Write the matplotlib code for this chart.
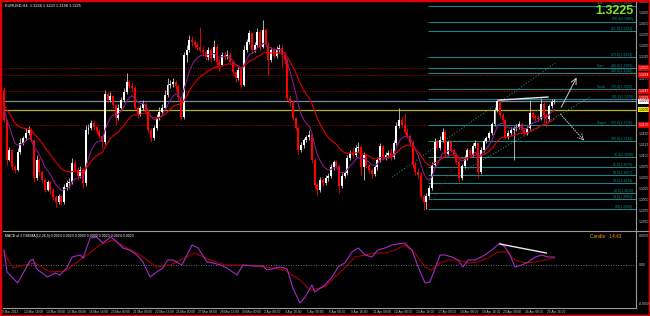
import numpy as np
import matplotlib
matplotlib.use("Agg")
import matplotlib.pyplot as plt
from matplotlib.lines import Line2D

# EURUSD H4, 9 Mar 2012 08:00 .. 26 Apr 2012, prices in pips above 1.3000
first_open = 250
closes = [
    182, 91, 114, 75, 68, 109, 130, 141, 152, 159,
    136, 50, 91, 64, 45, 23, 41, 23, 7, -5,
    9, -5, 30, 39, 41, 84, 68, 55, 68, 39,
    159, 164, 175, 166, 157, 145, 132, 241, 227, 236,
    216, 186, 209, 227, 245, 268, 259, 255, 209, 195,
    209, 218, 200, 159, 141, 164, 186, 200, 209, 239,
    261, 264, 268, 259, 234, 189, 330, 341, 364, 359,
    352, 348, 341, 336, 325, 341, 323, 348, 314, 307,
    330, 325, 330, 314, 291, 277, 295, 261, 341, 359,
    379, 341, 352, 382, 348, 386, 352, 318, 341, 327,
    341, 345, 330, 318, 232, 221, 186, 164, 114, 125,
    136, 143, 148, 91, 34, 23, 45, 39, 50, 55,
    75, 86, 77, 32, 55, 61, 95, 107, 102, 118,
    120, 75, 102, 77, 68, 59, 75, 91, 123, 98,
    102, 107, 98, 130, 168, 182, 170, 155, 145, 130,
    80, 64, 57, 9, -5, 9, 27, 80, 132, 118,
    136, 155, 105, 132, 114, 102, 86, 50, 77, 95,
    114, 102, 123, 130, 64, 114, 134, 141, 152, 173,
    205, 225, 193, 182, 143, 152, 159, 164, 166, 173,
    159, 152, 164, 198, 189, 186, 184, 218, 193, 184,
    214, 223, 225]
highs = [
    257, 184, 120, 116, 80, 118, 141, 145, 164, 168,
    164, 139, 102, 95, 68, 50, 45, 44, 27, 11,
    14, 11, 36, 45, 50, 95, 91, 75, 77, 73,
    170, 173, 182, 182, 170, 161, 148, 250, 245, 245,
    239, 218, 218, 234, 255, 289, 273, 268, 259, 214,
    216, 227, 223, 205, 164, 170, 195, 211, 218, 250,
    277, 273, 277, 273, 264, 236, 336, 352, 375, 373,
    364, 359, 393, 350, 341, 348, 345, 364, 355, 323,
    336, 336, 341, 336, 318, 295, 302, 300, 352, 366,
    386, 382, 359, 391, 386, 409, 391, 359, 348, 348,
    350, 355, 352, 336, 323, 239, 227, 189, 168, 132,
    141, 148, 159, 152, 95, 39, 52, 52, 57, 61,
    82, 91, 91, 80, 61, 68, 102, 114, 118, 125,
    132, 125, 109, 107, 82, 73, 80, 98, 130, 125,
    109, 114, 118, 136, 177, 209, 191, 198, 164, 150,
    136, 86, 73, 64, 14, 16, 34, 86, 141, 136,
    145, 164, 159, 136, 136, 118, 107, 91, 82, 102,
    118, 118, 130, 136, 132, 120, 139, 145, 157, 177,
    211, 230, 227, 198, 186, 159, 166, 168, 173, 180,
    177, 164, 168, 227, 202, 195, 193, 232, 223, 198,
    218, 230, 230]
lows = [
    177, 80, 88, 68, 61, 66, 105, 125, 136, 148,
    132, 41, 45, 57, 39, 18, 20, 14, 0, -16,
    -9, -11, -8, 23, 27, 36, 64, 45, 50, 27,
    32, 150, 159, 159, 150, 141, 118, 127, 221, 223,
    209, 170, 182, 205, 223, 241, 255, 245, 205, 186,
    191, 205, 193, 152, 132, 136, 159, 182, 193, 205,
    234, 255, 257, 252, 227, 182, 184, 314, 336, 350,
    345, 341, 336, 327, 318, 318, 314, 318, 300, 291,
    305, 318, 320, 309, 284, 268, 273, 255, 259, 336,
    355, 334, 336, 348, 341, 345, 348, 284, 314, 323,
    323, 334, 302, 309, 227, 214, 182, 159, 102, 109,
    118, 132, 136, 84, 27, 11, 18, 32, 34, 43,
    50, 68, 73, 16, 27, 50, 57, 91, 95, 98,
    109, 57, 45, 73, 61, 50, 55, 68, 86, 91,
    91, 95, 91, 93, 125, 164, 166, 150, 141, 123,
    73, 57, 50, 4, -23, -20, 4, 23, 75, 114,
    114, 132, 100, 100, 109, 95, 82, 41, 45, 73,
    91, 98, 98, 118, 50, 59, 109, 130, 136, 148,
    168, 200, 186, 177, 139, 139, 148, 91, 157, 161,
    155, 145, 148, 159, 184, 180, 177, 182, 175, 166,
    180, 209, 218]

# oscillator (bar index, value in 0.0001)
macd_bars = [0, 1.1, 5, 9.5, 10.6, 12, 16, 18.7, 20.5, 23, 25, 28, 29, 31.6, 34, 36.3,
             39, 40.7, 43.7, 46, 48.8, 51, 53.6, 56, 58.3, 60, 62, 65.3, 69, 71.2, 74.5,
             76.7, 79.3, 81.8, 85.5, 87.7, 91.4, 95, 96.5, 101.3, 103.9, 106, 108.6,
             110.5, 113, 114, 117.8, 120.4, 122.6, 125, 127.7, 130, 132.5, 135, 137.2,
             139.8, 142.4, 147, 149.7, 152, 154.5, 156.3, 158, 160, 161.8, 164.4, 166.6,
             168.4, 170.3, 172.8, 176.5, 179, 182, 183.9, 185.7, 187.5, 190, 192.3,
             194.9, 197.4, 199.6, 202]
macd_vals = [15, -7, -18, 4, 6, -4, -12, -8, -10, -3, 8, 10, 7, 27, 28, 22,
             28, 25, 17, 15, 10, 3, -12, -7, -3, 5, 5, 0, 20, 17, 3,
             2, 0, -3, -10, 0, -1, -1, -5, -2, -4, -23, -38,
             -32, -20, -27, -20, -12, -2, 2, 13, 17, 10, 8, 15,
             17, 20, 22, 15, -2, -18, -17, -5, 10, 10, 8, 5,
             -2, 5, 5, 10, 15, 22, 18, 10, -2, 0, 3,
             8, 10, 8, 8]
signal_bars = [0, 3.3, 7.7, 11.4, 16.9, 22.4, 27.9, 35.2, 40, 45, 50, 56, 61, 70, 75.6,
               81, 86.6, 94, 103, 108.6, 112.3, 117.8, 121.5, 125, 128.8, 132.5, 136,
               140, 143.5, 147, 150.8, 154.5, 157, 160, 163, 166.6, 170.3, 174, 177.6,
               181.3, 184.6, 187.5, 191.2, 194.9, 198.5, 202]
signal_vals = [13, -3, 0, 2, -7, -6, 5, 20, 25, 17, 10, -2, 0, 12, 5,
               0, 0, -1, -5, -15, -25, -22, -12, -3, 8, 10, 12,
               12, 15, 20, 12, -2, -5, 2, 5, 5, 2, 3, 7,
               13, 13, 5, 2, 3, 5, 7]

time_labels = ["9 Mar 2012", "12 Mar 16:00", "14 Mar 00:00", "15 Mar 08:00", "16 Mar 16:00",
               "20 Mar 00:00", "21 Mar 08:00", "22 Mar 16:00", "26 Mar 00:00", "27 Mar 08:00",
               "28 Mar 16:00", "30 Mar 00:00", "2 Apr 08:00", "3 Apr 16:00", "5 Apr 00:00",
               "6 Apr 08:00", "9 Apr 16:00", "11 Apr 00:00", "12 Apr 08:00", "13 Apr 16:00",
               "17 Apr 00:00", "18 Apr 08:00", "19 Apr 16:00", "23 Apr 00:00", "24 Apr 08:00",
               "25 Apr 16:00"]

# levels drawn on the chart
red_levels = [1.3300, 1.3284, 1.3247, 1.3170]
ask = 1.3232
yellow_level = 1.3205
bid = 1.3225
fib_low, fib_high = 1.2980, 1.3134
fib_ratios = [0.0, 14.6, 23.6, 38.2, 50.0, 61.8, 76.4, 100.0, 123.6, 161.8, 176.4,
              200.0, 208.0, 223.6, 261.8, 276.4, 300.0]
fib_names = {300.0: "Start", 208.0: "Start", 176.4: "South", 123.6: "Target"}
macd_header = "MACD of 3 OSEMA(12,26,9) 0.0024 0.0023 0.0000 0.0000 0.0023 0.0024 0.0023"
title = "EURUSD,H4  1.3228 1.3230 1.3198 1.3225"

FONT = "Liberation Sans"


def ema(vals, period, seed):
    out, prev, k = [], seed, 2.0 / (period + 1)
    for v in vals:
        prev = prev + k * (v - prev)
        out.append(prev)
    return np.array(out)


W, H = 650, 316
fig = plt.figure(figsize=(W / 100, H / 100), dpi=100, facecolor="black")


def box(l, t, r, b):
    return [l / W, 1 - b / H, (r - l) / W, (b - t) / H]


ax = fig.add_axes(box(3, 2, 636, 230))
sub = fig.add_axes(box(3, 231, 636, 308))
for a in (ax, sub):
    a.set_facecolor("black")
    a.set_xticks([])
    a.set_yticks([])
    for s in a.spines.values():
        s.set_visible(False)

c = 1.3 + np.array(closes) / 1e4
o = 1.3 + np.array([first_open] + closes[:-1]) / 1e4
hi = 1.3 + np.array(highs) / 1e4
lo = 1.3 + np.array(lows) / 1e4
x = np.arange(len(c))
xmax = (636 - 4) / 2.725
ax.set_xlim(-0.37, xmax)
sub.set_xlim(-0.37, xmax)
ax.set_ylim(1.29318, 1.3450)
sub.set_ylim(-0.0043, 0.0034)

teal = "#1B8585"
# horizontal levels
for p in red_levels:
    ax.axhline(p, color="#B00000", lw=0.7, ls=(0, (1, 1.5)), zorder=1)
ax.axhline(bid, color="#7A8A99", lw=0.9, zorder=1)
ax.axhline(yellow_level, color="#B4B400", lw=0.9, zorder=1)

# fibonacci expansion
fib_prices = [fib_low + r / 100 * (fib_high - fib_low) for r in fib_ratios]
ax.hlines(fib_prices, 155.5, xmax, color=teal, lw=0.8, zorder=1)
ax.plot([155.2, 171.0], [fib_low, fib_high], color="#8B0000", lw=0.6, ls=(0, (1, 1.5)),
        zorder=1)
for r, p in zip(fib_ratios, fib_prices):
    ax.text(231.0, p + 0.00005, f"{r:.1f}({p:.4f})", ha="right", va="bottom",
            fontsize=2.5, color=teal, family=FONT)
    if r in fib_names:
        ax.text(217.5, p + 0.00005, fib_names[r], ha="left", va="bottom",
                fontsize=2.5, color=teal, family=FONT)

# channel
ax.plot([142.4, 203.0], [1.3052, 1.3314], color="#1AA0A0", lw=0.7, ls=(0, (1, 2)))
ax.plot([168.4, 215.0], [1.3064, 1.3234], color="#1AA0A0", lw=0.7, ls=(0, (1, 2)))

# candles
up = c >= o
ax.vlines(x, lo, hi, colors=np.where(up, "#C8C8C8", "#FF0000"), lw=0.6, zorder=2)
ax.bar(x, np.maximum(np.abs(c - o), 0.00003), bottom=np.minimum(o, c), width=0.72,
       color=np.where(up, "white", "#FF0000"), linewidth=0, zorder=3)

# moving averages
ax.plot(x, ema(c, 8, 1.3215), color="#8A1A8A", lw=0.8, zorder=4)
ax.plot(x, ema(c, 21, 1.3220), color="#E00000", lw=0.8, zorder=4)

# trend line and projections
ax.plot([181.6, 199.6], [1.3227, 1.3234], color="#E8E8E8", lw=1.0, zorder=5)
ax.annotate("", xy=(210.6, 1.3284), xytext=(204.0, 1.3205),
            arrowprops=dict(arrowstyle="->", color="#C8C8C8", lw=0.7))
ax.annotate("", xy=(213.6, 1.3130), xytext=(203.5, 1.3200),
            arrowprops=dict(arrowstyle="->", color="#C8C8C8", lw=0.7, ls=(0, (1, 1.5))))

# texts
ax.text(0.003, 0.993, title, transform=ax.transAxes, va="top", ha="left",
        fontsize=2.8, color="white", family=FONT)
fig.text(633 / W, 1 - 11 / H, "1.3225", color="#7FE31C", fontsize=9, fontweight="bold",
         ha="right", va="center", family=FONT)

# price scale
ytr = ax.get_yaxis_transform()
boxed = red_levels + [ask, bid, yellow_level]
for k in range(21):
    p = 1.2950 + 0.0025 * k
    if min(abs(p - b) for b in boxed) < 0.0009:
        continue
    ax.text(1.004, p, f"{p:.4f}", transform=ytr, fontsize=2.4, color="#C8C8C8",
            va="center", ha="left", family=FONT)
tag = dict(transform=ytr, fontsize=2.4, va="center", ha="left", family=FONT)
for p in red_levels + [ask]:
    ax.text(1.004, p, f"{p:.4f}", color="white",
            bbox=dict(facecolor="#E00000", edgecolor="none", pad=0.5), **tag)
ax.text(1.004, bid - 0.00008, f"{bid:.4f}", color="black",
        bbox=dict(facecolor="white", edgecolor="none", pad=0.5), **tag)
ax.text(1.004, yellow_level, f"{yellow_level:.4f}", color="black",
        bbox=dict(facecolor="#F0F000", edgecolor="none", pad=0.5), **tag)

# oscillator window
sub.axhline(0, color="#909090", lw=0.6, ls=(0, (1, 2)))
sub.plot(signal_bars, np.array(signal_vals) / 1e4, color="#A00000", lw=0.8)
sub.plot(macd_bars, np.array(macd_vals) / 1e4, color="#A22CC8", lw=0.8)
sub.plot([182, 199], [0.0021, 0.0012], color="#E8E8E8", lw=1.0)
sub.text(0.003, 0.96, macd_header, transform=sub.transAxes, fontsize=2.5, color="white",
         va="top", family=FONT)
sub.text(0.927, 0.93, "Candle   14:43", transform=sub.transAxes, fontsize=3.4,
         color="#FF9A00", va="center", family=FONT)
stx = sub.get_yaxis_transform()
sub.text(1.004, 0.96, "0.0033", transform=sub.transAxes, fontsize=2.4, color="#C8C8C8",
         va="top", family=FONT)
sub.text(1.004, 0.0, "0.00", transform=stx, fontsize=2.4, color="#C8C8C8", va="center",
         family=FONT)
sub.text(1.004, 0.03, "-0.0038", transform=sub.transAxes, fontsize=2.4, color="#C8C8C8",
         va="bottom", family=FONT)

xtr = sub.get_xaxis_transform()
for k, lab in enumerate(time_labels):
    sub.text(8 * k - 0.7, -0.03, lab, transform=xtr, fontsize=2.3, color="#C8C8C8",
             ha="left", va="top", family=FONT)

# frame lines
grey = "#9A9A9A"
fig.add_artist(Line2D([3 / W, 648 / W], [1 - 231 / H] * 2, color=grey, lw=0.8))
fig.add_artist(Line2D([3 / W, 636 / W], [1 - 308 / H] * 2, color=grey, lw=0.8))
fig.add_artist(Line2D([636 / W] * 2, [1 - 2 / H, 1 - 308 / H], color=grey, lw=0.8))
fig.add_artist(plt.Rectangle((0, 0), 1, 1, transform=fig.transFigure, fill=False,
                             edgecolor="#E00000", lw=2.5))

fig.savefig("out.png", dpi=100, facecolor="black")
